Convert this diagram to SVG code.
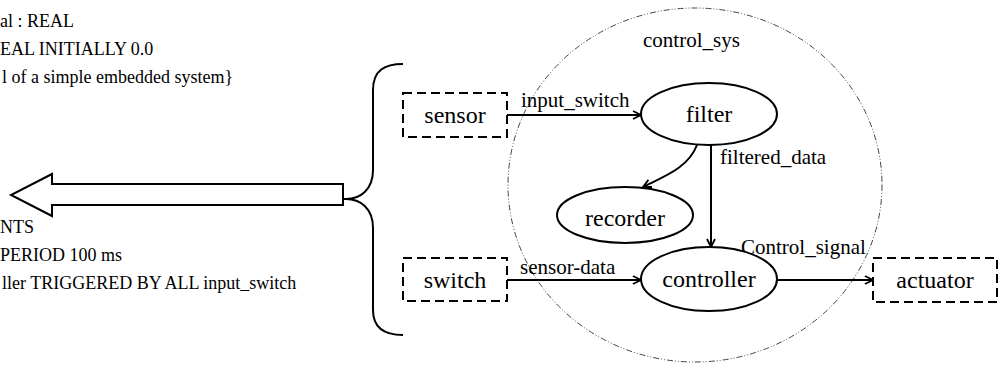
<svg xmlns="http://www.w3.org/2000/svg" width="1001" height="365" viewBox="0 0 1001 365">
  <style>
    text { font-family: "Liberation Serif", "Times New Roman", serif; fill: #000; }
    .decl { font-size: 18px; }
    .node-label { font-size: 24px; text-anchor: middle; }
    .edge-label { font-size: 21px; }
    .proc { fill: #fff; stroke: #000; stroke-width: 2; }
    .ext { fill: #fff; stroke: #000; stroke-width: 2; stroke-dasharray: 9 5; }
    .flow { fill: none; stroke: #000; stroke-width: 2; marker-end: url(#arrow); }
    .boundary { fill: none; stroke: #444; stroke-width: 1; stroke-dasharray: 6 2 1 2 1 2; }
  </style>
  <defs>
    <marker id="arrow" viewBox="0 0 10 10" refX="9" refY="5" markerWidth="10" markerHeight="10" markerUnits="userSpaceOnUse" orient="auto">
      <path d="M1,1 L9,5 L1,9" fill="none" stroke="#000" stroke-width="1.8"/>
    </marker>
  </defs>
  <rect width="1001" height="365" fill="#fff"/>

  <!-- declarations text -->
  <g id="declarations">
    <text class="decl" x="0" y="27">al : REAL</text>
    <text class="decl" x="0" y="55">EAL INITIALLY 0.0</text>
    <text class="decl" x="2" y="83">l of a simple embedded system}</text>
    <text class="decl" x="0" y="233">NTS</text>
    <text class="decl" x="0" y="261">PERIOD 100 ms</text>
    <text class="decl" x="2" y="289">ller TRIGGERED BY ALL input_switch</text>
  </g>

  <!-- block arrow and brace -->
  <g id="expansion">
    <polygon points="343,184 52,184 52,174 11,195 52,216 52,205 343,205" fill="#fff" stroke="#000" stroke-width="2"/>
    <line x1="343" y1="199" x2="347" y2="199" stroke="#000" stroke-width="2"/>
    <path d="M403,64 C385,64 373,70 373,90 L373,170 C373,190 360,199 346,199 C360,199 373,208 373,228 L373,310 C373,328 385,335 403,335" fill="none" stroke="#000" stroke-width="2"/>
  </g>

  <!-- system boundary -->
  <g id="control_sys">
    <ellipse class="boundary" cx="695" cy="185" rx="187" ry="177"/>
    <text class="edge-label" x="643" y="47">control_sys</text>
  </g>

  <!-- connectors -->
  <g id="connectors">
    <path class="flow" d="M507,115 L641,115"/>
    <path class="flow" d="M507,280 L641,280"/>
    <path class="flow" d="M777,280 L873,280"/>
    <path class="flow" d="M711,145 L711,247"/>
    <path class="flow" d="M697,145 C688,168 665,176 643,187"/>
    <text class="edge-label" x="521" y="107">input_switch</text>
    <text class="edge-label" x="520" y="274">sensor-data</text>
    <text class="edge-label" x="741" y="254">Control_signal</text>
    <text class="edge-label" x="720" y="164">filtered_data</text>
  </g>

  <!-- nodes -->
  <g id="sensor">
    <rect class="ext" x="403" y="93" width="104" height="44"/>
    <text class="node-label" x="455" y="123">sensor</text>
  </g>
  <g id="switch">
    <rect class="ext" x="403" y="258" width="104" height="43"/>
    <text class="node-label" x="455" y="288">switch</text>
  </g>
  <g id="actuator">
    <rect class="ext" x="873" y="258" width="124" height="44"/>
    <text class="node-label" x="935" y="288">actuator</text>
  </g>
  <g id="filter">
    <ellipse class="proc" cx="709" cy="114" rx="68" ry="31"/>
    <text class="node-label" x="709" y="122">filter</text>
  </g>
  <g id="recorder">
    <ellipse class="proc" cx="625" cy="215" rx="68" ry="28"/>
    <text class="node-label" x="625" y="226">recorder</text>
  </g>
  <g id="controller">
    <ellipse class="proc" cx="709" cy="279" rx="68" ry="32"/>
    <text class="node-label" x="709" y="287">controller</text>
  </g>
</svg>
